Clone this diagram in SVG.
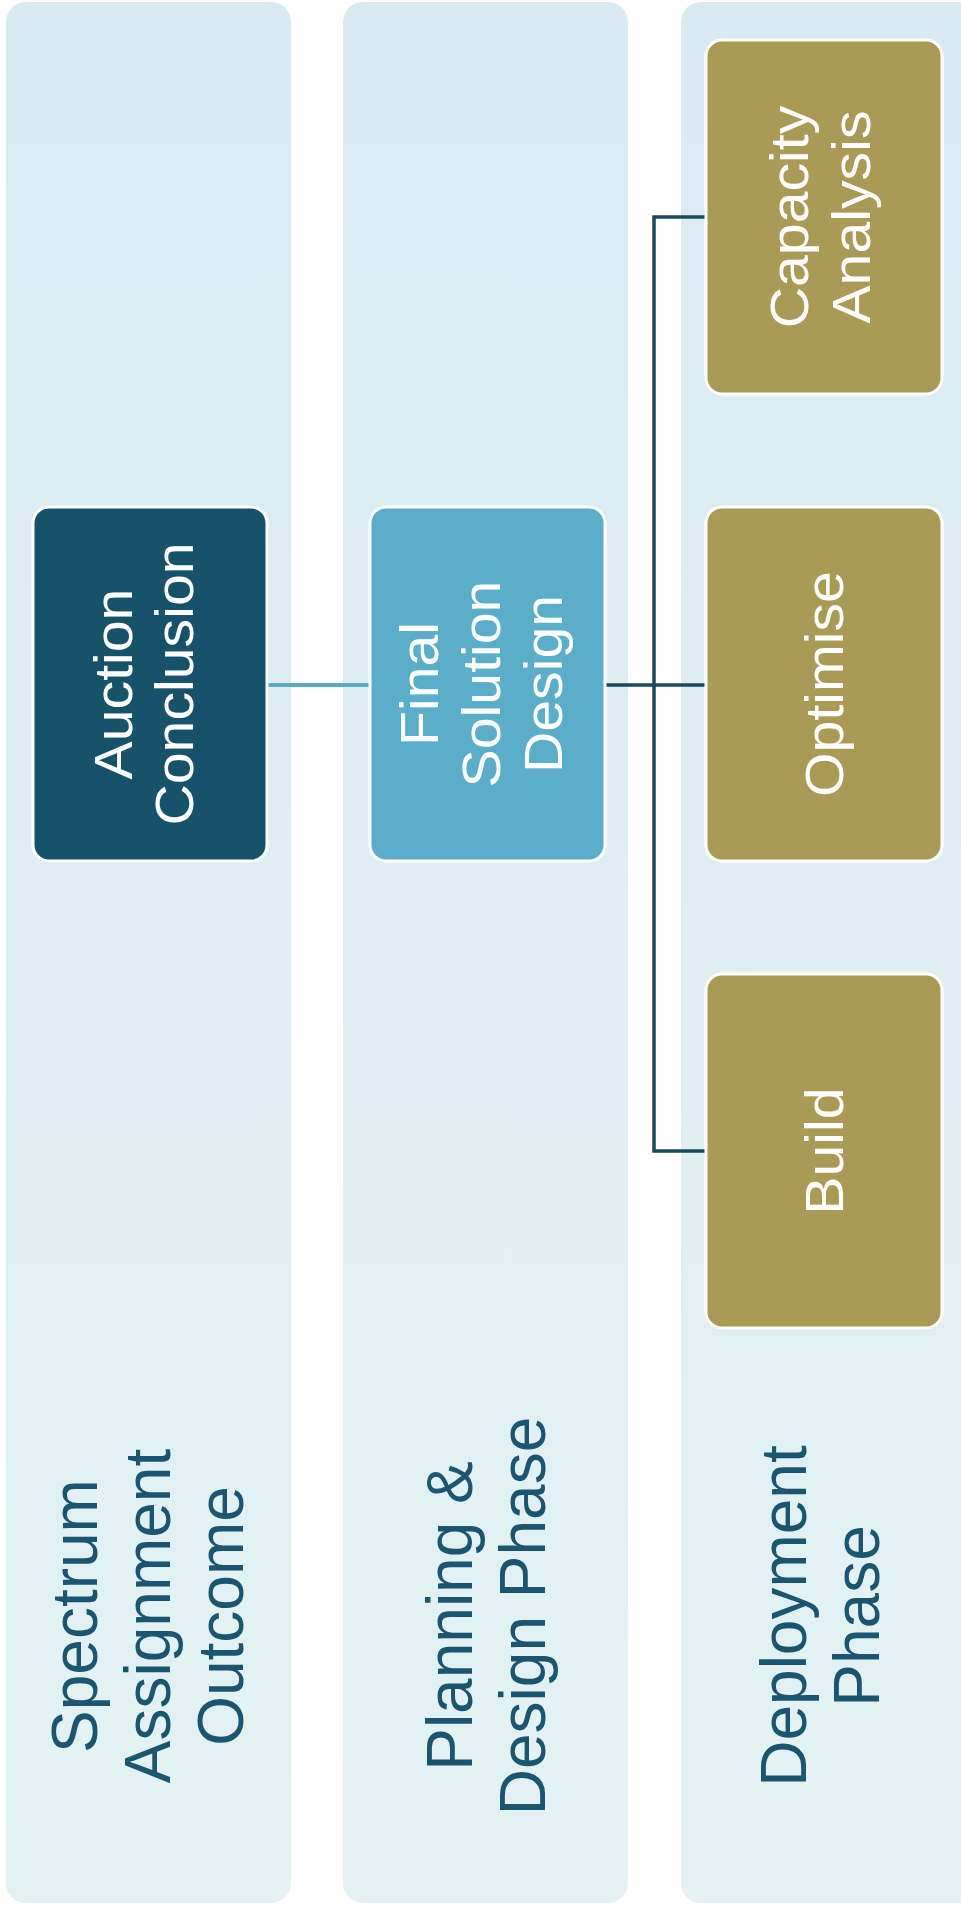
<svg xmlns="http://www.w3.org/2000/svg" width="961" height="1910" viewBox="0 0 961 1910">
  <defs>
    <linearGradient id="colGrad" x1="0" y1="0" x2="0" y2="1">
      <stop offset="0" stop-color="#d9ebf1"/>
      <stop offset="1" stop-color="#e4f2f3"/>
    </linearGradient>
    <style>
      .col { fill: url(#colGrad); }
      .box { stroke: #ffffff; stroke-width: 3; }
      .dark { fill: #16536a; }
      .mid { fill: #5aaec9; }
      .gold { fill: #a99b55; }
      .btxt { font-family: "Liberation Sans", Arial, sans-serif; font-size: 53px; fill: #ffffff; text-anchor: middle; }
      .ltxt { font-family: "Liberation Sans", Arial, sans-serif; font-size: 64px; fill: #1b5670; text-anchor: middle; }
      .c-light { stroke: #5aabc8; stroke-width: 4; fill: none; }
      .c-dark { stroke: #1b4a5f; stroke-width: 3.5; fill: none; }
    </style>
  </defs>
  <rect x="0" y="0" width="961" height="1910" fill="#ffffff"/>

  <g id="lane-spectrum">
    <rect class="col" x="6" y="2" width="285" height="1901" rx="20"/>
    <text class="ltxt" transform="rotate(-90)"><tspan x="-1616" y="97">Spectrum</tspan><tspan x="-1616" y="170">Assignment</tspan><tspan x="-1616" y="243">Outcome</tspan></text>
  </g>
  <g id="lane-planning">
    <rect class="col" x="343" y="2" width="285" height="1901" rx="20"/>
    <text class="ltxt" transform="rotate(-90)"><tspan x="-1616" y="472">Planning &amp;</tspan><tspan x="-1616" y="545">Design Phase</tspan></text>
  </g>
  <g id="lane-deployment">
    <rect class="col" x="681" y="2" width="300" height="1901" rx="20"/>
    <text class="ltxt" transform="rotate(-90)"><tspan x="-1616" y="806">Deployment</tspan><tspan x="-1616" y="879">Phase</tspan></text>
  </g>

  <g id="connectors">
    <line class="c-light" x1="267" y1="685" x2="370" y2="685"/>
    <line class="c-dark" x1="605" y1="685" x2="706" y2="685"/>
    <polyline class="c-dark" points="706,217 654,217 654,1151 706,1151"/>
  </g>

  <g id="node-auction">
    <rect class="box dark" x="33" y="507" width="234" height="354" rx="16"/>
    <text class="btxt" transform="translate(0,684) rotate(-90) scale(1.08,1)"><tspan x="0" y="132">Auction</tspan><tspan x="0" y="193">Conclusion</tspan></text>
  </g>
  <g id="node-final">
    <rect class="box mid" x="370" y="507" width="235" height="354" rx="16"/>
    <text class="btxt" transform="translate(0,684) rotate(-90) scale(1.08,1)"><tspan x="0" y="438">Final</tspan><tspan x="0" y="500">Solution</tspan><tspan x="0" y="562">Design</tspan></text>
  </g>
  <g id="node-capacity">
    <rect class="box gold" x="706" y="40" width="236" height="354" rx="16"/>
    <text class="btxt" transform="translate(0,217) rotate(-90) scale(1.08,1)"><tspan x="0" y="808">Capacity</tspan><tspan x="0" y="870">Analysis</tspan></text>
  </g>
  <g id="node-optimise">
    <rect class="box gold" x="706" y="507" width="236" height="354" rx="16"/>
    <text class="btxt" transform="translate(0,684) rotate(-90) scale(1.08,1)" x="0" y="843">Optimise</text>
  </g>
  <g id="node-build">
    <rect class="box gold" x="706" y="974" width="236" height="354" rx="16"/>
    <text class="btxt" transform="translate(0,1151) rotate(-90) scale(1.08,1)" x="0" y="843">Build</text>
  </g>
</svg>
